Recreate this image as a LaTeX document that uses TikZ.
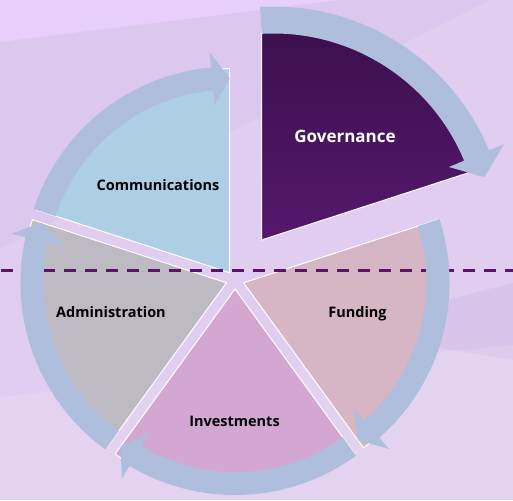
\documentclass[tikz,border=0pt]{standalone}
\usepackage{fontspec}
\setmainfont{Open Sans}
\usetikzlibrary{calc}
\definecolor{bgbase}{HTML}{DCC7EF}
\definecolor{bglight}{HTML}{E7CEFB}
\definecolor{bgdark}{HTML}{CDB5E6}
\definecolor{comcol}{HTML}{AECEE6}
\definecolor{admcol}{HTML}{BEBAC4}
\definecolor{invcol}{HTML}{D4A7D2}
\definecolor{funcol}{HTML}{D6B5C5}
\definecolor{govtop}{HTML}{3A0F4B}
\definecolor{govmid}{HTML}{6A2586}
\definecolor{govbot}{HTML}{54186C}
\definecolor{bandcol}{HTML}{AFBEDC}
\definecolor{dashcol}{HTML}{5A1464}
\newcommand{\cyclearrow}[7]{%
  \pgfmathsetmacro\myArMid{(#4+#5)/2}%
  \pgfmathsetmacro\myArBack{#3+#7}%
  \pgfmathsetmacro\myArOut{#4+#6}%
  \pgfmathsetmacro\myArIn{#5-#6}%
  \fill[bandcol] ($(#1)+(#2:#4)$) arc[start angle=#2, end angle=\myArBack, radius=#4]
     -- ($(#1)+(\myArBack:\myArOut)$) -- ($(#1)+(#3:\myArMid)$) -- ($(#1)+(\myArBack:\myArIn)$)
     -- ($(#1)+(\myArBack:#5)$) arc[start angle=\myArBack, end angle=#2, radius=#5] -- cycle;
}
\tikzset{
  slicebox/.style={draw=white, line width=1pt, line join=miter},
  lbl/.style={font=\fontsize{14.5}{17}\selectfont\bfseries, text=black, anchor=base, inner sep=0pt},
}
\begin{document}
\begin{tikzpicture}[x=1pt,y=1pt]
\useasboundingbox (0,0) rectangle (513,500);
% background
\fill[bgbase] (0,0) rectangle (513,500);
\fill[bglight] (0,500) -- (340,500) -- (0,458) -- cycle;
\fill[white, opacity=0.12] (490,500) -- (513,500) -- (513,0) -- (0,0) -- (0,251) -- cycle;
\fill[bgdark, opacity=0.35] (513,217) -- (513,140) -- (330,170) -- cycle;
\fill[white, opacity=0.12] (0,103) -- (513,155) -- (513,0) -- (0,0) -- cycle;
% centres
\coordinate (C) at (235,220);
\coordinate (aCom) at ($(C)+(126:9)$);
\coordinate (aAdm) at ($(C)+(198:9)$);
\coordinate (aInv) at ($(C)+(270:9)$);
\coordinate (aFun) at ($(C)+(342:9)$);
\coordinate (aGov) at (261.5,260);
\coordinate (pGov) at (273.5,260);
% slices
\fill[comcol, slicebox] (aCom) -- ($(aCom)+(90:204)$) arc[start angle=90, end angle=162, radius=204] -- cycle;
\fill[admcol, slicebox] (aAdm) -- ($(aAdm)+(162:204)$) arc[start angle=162, end angle=234, radius=204] -- cycle;
\fill[invcol, slicebox] (aInv) -- ($(aInv)+(234:204)$) arc[start angle=234, end angle=306, radius=204] -- cycle;
\fill[funcol, slicebox] (aFun) -- ($(aFun)+(306:204)$) arc[start angle=306, end angle=378, radius=204] -- cycle;
\shadedraw[top color=govtop, middle color=govmid, bottom color=govbot, draw=white, line width=1pt]
  (aGov) -- ($(aGov)+(18:232)$) arc[start angle=18, end angle=90, radius=232] -- cycle;
% dashed line
\coordinate (dL) at (1,229.3);
\coordinate (dR) at (513,229.3);
\draw[dashcol, line width=2.6pt, dash pattern=on 12pt off 9pt] (dL) -- (dR);
% arrows
\cyclearrow{aCom}{162}{90}{206}{183}{15}{5.2}
\cyclearrow{aAdm}{234}{162}{206}{183}{15}{5.2}
\cyclearrow{aInv}{306}{234}{206}{183}{15}{5.2}
\cyclearrow{aFun}{18}{-54}{206}{183}{15}{5.2}
\cyclearrow{pGov}{93.3}{16.6}{233.5}{206.5}{16.5}{6}
% labels
\node[lbl, text=white, font=\fontsize{17}{20}\selectfont\bfseries] (tGov) at (345,357) {Governance};
\node[lbl] (tCom) at (158,309) {Communications};
\node[lbl] (tAdm) at (111,182) {Administration};
\node[lbl] (tFun) at (357.5,182) {Funding};
\node[lbl] (tInv) at (234.5,74) {Investments};
\end{tikzpicture}
\end{document}
